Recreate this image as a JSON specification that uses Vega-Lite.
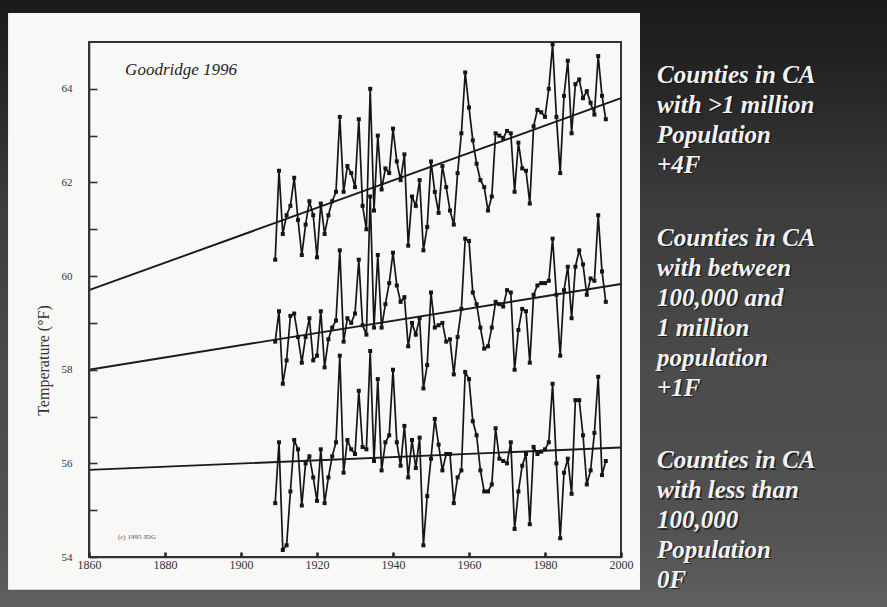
{
  "$schema": "https://vega.github.io/schema/vega-lite/v6.json",
  "width": 532,
  "height": 515,
  "autosize": "none",
  "padding": {"left": 89, "top": 42, "right": 266, "bottom": 50},
  "background": "#1c1c1c",
  "config": {"view": {"stroke": null}},
  "datasets": {
    "slide": [
      {"part": "backdrop", "year": 1830, "year2": 2090, "temp": 52.6, "temp2": 66.2},
      {"part": "panel", "year": 1838.7, "year2": 2005.0, "temp": 53.3, "temp2": 65.62}
    ],
    "frame": [{"year": 1860, "year2": 2000, "temp": 54, "temp2": 65}],
    "series": [
      {"year": 1909, "large": 60.35, "medium": 58.6, "small": 55.15},
      {"year": 1910, "large": 62.25, "medium": 59.25, "small": 56.45},
      {"year": 1911, "large": 60.9, "medium": 57.7, "small": 54.15},
      {"year": 1912, "large": 61.3, "medium": 58.2, "small": 54.25},
      {"year": 1913, "large": 61.5, "medium": 59.15, "small": 55.4},
      {"year": 1914, "large": 62.1, "medium": 59.2, "small": 56.5},
      {"year": 1915, "large": 61.2, "medium": 58.7, "small": 56.3},
      {"year": 1916, "large": 60.45, "medium": 58.15, "small": 55.1},
      {"year": 1917, "large": 61.1, "medium": 58.7, "small": 56.0},
      {"year": 1918, "large": 61.6, "medium": 59.1, "small": 56.15},
      {"year": 1919, "large": 61.3, "medium": 58.2, "small": 55.7},
      {"year": 1920, "large": 60.4, "medium": 58.3, "small": 55.2},
      {"year": 1921, "large": 61.55, "medium": 59.25, "small": 56.3},
      {"year": 1922, "large": 60.9, "medium": 58.05, "small": 55.15},
      {"year": 1923, "large": 61.3, "medium": 58.65, "small": 55.7},
      {"year": 1924, "large": 61.6, "medium": 58.9, "small": 56.15},
      {"year": 1925, "large": 61.8, "medium": 59.05, "small": 56.45},
      {"year": 1926, "large": 63.4, "medium": 60.55, "small": 58.3},
      {"year": 1927, "large": 61.8, "medium": 58.6, "small": 55.8},
      {"year": 1928, "large": 62.35, "medium": 59.1, "small": 56.5},
      {"year": 1929, "large": 62.2, "medium": 59.0, "small": 56.3},
      {"year": 1930, "large": 61.9, "medium": 59.2, "small": 56.2},
      {"year": 1931, "large": 63.35, "medium": 60.35, "small": 57.55},
      {"year": 1932, "large": 61.5, "medium": 58.95, "small": 56.35},
      {"year": 1933, "large": 61.0, "medium": 58.75, "small": 56.3},
      {"year": 1934, "large": 64.0, "medium": 61.7, "small": 58.4},
      {"year": 1935, "large": 61.4, "medium": 58.9, "small": 56.05},
      {"year": 1936, "large": 63.0, "medium": 60.45, "small": 57.8},
      {"year": 1937, "large": 61.85, "medium": 58.9, "small": 55.85},
      {"year": 1938, "large": 62.3, "medium": 59.4, "small": 56.45},
      {"year": 1939, "large": 62.2, "medium": 59.85, "small": 56.6},
      {"year": 1940, "large": 63.15, "medium": 60.5, "small": 58.0},
      {"year": 1941, "large": 62.45, "medium": 59.8, "small": 56.45},
      {"year": 1942, "large": 62.05, "medium": 59.45, "small": 55.95},
      {"year": 1943, "large": 62.6, "medium": 59.55, "small": 56.8},
      {"year": 1944, "large": 60.65, "medium": 58.5, "small": 55.7},
      {"year": 1945, "large": 61.7, "medium": 59.0, "small": 56.5},
      {"year": 1946, "large": 61.5, "medium": 58.75, "small": 55.9},
      {"year": 1947, "large": 62.05, "medium": 59.1, "small": 56.55},
      {"year": 1948, "large": 60.55, "medium": 57.6, "small": 54.25},
      {"year": 1949, "large": 61.05, "medium": 58.1, "small": 55.3},
      {"year": 1950, "large": 62.45, "medium": 59.65, "small": 56.1},
      {"year": 1951, "large": 61.8, "medium": 58.9, "small": 56.95},
      {"year": 1952, "large": 61.35, "medium": 58.95, "small": 56.4},
      {"year": 1953, "large": 62.35, "medium": 59.0, "small": 55.85},
      {"year": 1954, "large": 61.9, "medium": 58.6, "small": 56.2},
      {"year": 1955, "large": 61.4, "medium": 58.65, "small": 56.2},
      {"year": 1956, "large": 61.1, "medium": 57.9, "small": 55.15},
      {"year": 1957, "large": 62.2, "medium": 58.7, "small": 55.7},
      {"year": 1958, "large": 63.05, "medium": 59.3, "small": 55.85},
      {"year": 1959, "large": 64.35, "medium": 60.8, "small": 57.95},
      {"year": 1960, "large": 63.6, "medium": 60.75, "small": 57.8},
      {"year": 1961, "large": 62.9, "medium": 59.65, "small": 56.9},
      {"year": 1962, "large": 62.4, "medium": 59.4, "small": 56.6},
      {"year": 1963, "large": 62.05, "medium": 58.9, "small": 55.85},
      {"year": 1964, "large": 61.9, "medium": 58.45, "small": 55.4},
      {"year": 1965, "large": 61.4, "medium": 58.5, "small": 55.4},
      {"year": 1966, "large": 61.7, "medium": 58.9, "small": 55.55},
      {"year": 1967, "large": 63.05, "medium": 59.45, "small": 56.75},
      {"year": 1968, "large": 63.0, "medium": 59.4, "small": 56.1},
      {"year": 1969, "large": 62.95, "medium": 59.35, "small": 56.05},
      {"year": 1970, "large": 63.1, "medium": 59.7, "small": 56.0},
      {"year": 1971, "large": 63.05, "medium": 59.65, "small": 56.45},
      {"year": 1972, "large": 61.8, "medium": 58.0, "small": 54.6},
      {"year": 1973, "large": 62.85, "medium": 58.85, "small": 55.4},
      {"year": 1974, "large": 62.3, "medium": 59.3, "small": 55.95},
      {"year": 1975, "large": 62.25, "medium": 59.25, "small": 56.2},
      {"year": 1976, "large": 61.55, "medium": 58.15, "small": 54.7},
      {"year": 1977, "large": 63.2, "medium": 59.6, "small": 56.35},
      {"year": 1978, "large": 63.55, "medium": 59.8, "small": 56.2},
      {"year": 1979, "large": 63.5, "medium": 59.85, "small": 56.25},
      {"year": 1980, "large": 63.4, "medium": 59.85, "small": 56.3},
      {"year": 1981, "large": 64.0, "medium": 59.9, "small": 56.45},
      {"year": 1982, "large": 64.95, "medium": 60.8, "small": 57.7},
      {"year": 1983, "large": 63.4, "medium": 59.6, "small": 56.0},
      {"year": 1984, "large": 62.2, "medium": 58.3, "small": 54.4},
      {"year": 1985, "large": 63.85, "medium": 59.7, "small": 55.8},
      {"year": 1986, "large": 64.6, "medium": 60.2, "small": 56.1},
      {"year": 1987, "large": 63.05, "medium": 59.1, "small": 55.35},
      {"year": 1988, "large": 64.1, "medium": 60.2, "small": 57.35},
      {"year": 1989, "large": 64.2, "medium": 60.55, "small": 57.35},
      {"year": 1990, "large": 63.8, "medium": 60.25, "small": 56.6},
      {"year": 1991, "large": 63.95, "medium": 59.6, "small": 55.55},
      {"year": 1992, "large": 63.7, "medium": 59.95, "small": 55.85},
      {"year": 1993, "large": 63.45, "medium": 59.9, "small": 56.65},
      {"year": 1994, "large": 64.7, "medium": 61.3, "small": 57.85},
      {"year": 1995, "large": 63.85, "medium": 60.1, "small": 55.75},
      {"year": 1996, "large": 63.35, "medium": 59.45, "small": 56.05}
    ],
    "trends": [
      {"group": "large", "year": 1860, "temp": 59.7},
      {"group": "large", "year": 2000, "temp": 63.8},
      {"group": "medium", "year": 1860, "temp": 58.0},
      {"group": "medium", "year": 2000, "temp": 59.83},
      {"group": "small", "year": 1860, "temp": 55.86},
      {"group": "small", "year": 2000, "temp": 56.34}
    ],
    "credits": [
      {"label": "Goodridge 1996", "year": 1869.5, "temp": 64.4, "kind": "title"},
      {"label": "(c) 1995 JDG", "year": 1867.6, "temp": 54.43, "kind": "small"}
    ],
    "notes": [
      {"label": "Counties in CA", "year": 2009.5, "temp": 64.3},
      {"label": "with >1 million", "year": 2009.5, "temp": 63.66},
      {"label": "Population", "year": 2009.5, "temp": 63.02},
      {"label": "+4F", "year": 2009.5, "temp": 62.38},
      {"label": "Counties in CA", "year": 2009.5, "temp": 60.82},
      {"label": "with between", "year": 2009.5, "temp": 60.18},
      {"label": "100,000 and", "year": 2009.5, "temp": 59.54},
      {"label": "1 million", "year": 2009.5, "temp": 58.9},
      {"label": "population", "year": 2009.5, "temp": 58.26},
      {"label": "+1F", "year": 2009.5, "temp": 57.62},
      {"label": "Counties in CA", "year": 2009.5, "temp": 56.07},
      {"label": "with less than", "year": 2009.5, "temp": 55.43},
      {"label": "100,000", "year": 2009.5, "temp": 54.79},
      {"label": "Population", "year": 2009.5, "temp": 54.15},
      {"label": "0F", "year": 2009.5, "temp": 53.51}
    ]
  },
  "layer": [
    {
      "data": {"name": "slide"},
      "transform": [{"filter": "datum.part === 'backdrop'"}],
      "mark": {
        "type": "rect",
        "color": {
          "gradient": "linear",
          "x1": 0, "y1": 0, "x2": 0, "y2": 1,
          "stops": [
            {"offset": 0, "color": "#1a1a1a"},
            {"offset": 0.1, "color": "#202020"},
            {"offset": 0.35, "color": "#3c3c3c"},
            {"offset": 0.6, "color": "#4b4b4b"},
            {"offset": 0.85, "color": "#525252"},
            {"offset": 1, "color": "#626262"}
          ]
        }
      },
      "encoding": {
        "x": {
          "field": "year", "type": "quantitative",
          "scale": {"domain": [1860, 2000], "nice": false, "zero": false},
          "axis": {
            "values": [1860, 1880, 1900, 1920, 1940, 1960, 1980, 2000],
            "format": "d",
            "title": null,
            "grid": false,
            "zindex": 1,
            "domainColor": "#333",
            "domainWidth": 1.6,
            "tickColor": "#222",
            "tickSize": -5,
            "tickWidth": 2.5,
            "labelPadding": 7,
            "labelFlush": false,
            "labelOverlap": false,
            "labelFont": "Liberation Serif",
            "labelFontSize": 12,
            "labelColor": "#333"
          }
        },
        "x2": {"field": "year2"},
        "y": {
          "field": "temp", "type": "quantitative",
          "scale": {"domain": [54, 65], "nice": false, "zero": false},
          "axis": {
            "values": [54, 55, 56, 57, 58, 59, 60, 61, 62, 63, 64],
            "format": "d",
            "labelExpr": "datum.value % 2 === 0 ? datum.label : ''",
            "title": "Temperature (°F)",
            "titleFont": "Liberation Serif",
            "titleFontSize": 16,
            "titleFontWeight": "normal",
            "titleColor": "#333",
            "titleX": -46,
            "titleY": 318,
            "titleBaseline": "middle",
            "grid": false,
            "zindex": 1,
            "domainColor": "#333",
            "domainWidth": 1.6,
            "tickColor": "#333",
            "tickSize": -8,
            "tickWidth": 1.6,
            "labelPadding": 25,
            "labelOverlap": false,
            "labelFont": "Liberation Serif",
            "labelFontSize": 11,
            "labelColor": "#333"
          }
        },
        "y2": {"field": "temp2"}
      }
    },
    {
      "data": {"name": "slide"},
      "transform": [{"filter": "datum.part === 'panel'"}],
      "mark": {"type": "rect", "color": "#f8f8f7"},
      "encoding": {
        "x": {"field": "year", "type": "quantitative"},
        "x2": {"field": "year2"},
        "y": {"field": "temp", "type": "quantitative"},
        "y2": {"field": "temp2"}
      }
    },
    {
      "data": {"name": "frame"},
      "mark": {"type": "rect", "fillOpacity": 0, "stroke": "#333", "strokeWidth": 2},
      "encoding": {
        "x": {"field": "year", "type": "quantitative"},
        "x2": {"field": "year2"},
        "y": {"field": "temp", "type": "quantitative"},
        "y2": {"field": "temp2"}
      }
    },
    {
      "data": {"name": "trends"},
      "mark": {"type": "line", "color": "#1a1a1a", "strokeWidth": 1.9},
      "encoding": {
        "x": {"field": "year", "type": "quantitative"},
        "y": {"field": "temp", "type": "quantitative"},
        "detail": {"field": "group"}
      }
    },
    {
      "data": {"name": "series"},
      "transform": [{"fold": ["large", "medium", "small"], "as": ["group", "temp"]}],
      "mark": {
        "type": "line",
        "color": "#151515",
        "strokeWidth": 1.7,
        "point": {"filled": true, "size": 16, "shape": "square", "color": "#151515"}
      },
      "encoding": {
        "x": {"field": "year", "type": "quantitative"},
        "y": {"field": "temp", "type": "quantitative"},
        "detail": {"field": "group"}
      }
    },
    {
      "data": {"name": "credits"},
      "transform": [{"filter": "datum.kind === 'title'"}],
      "mark": {"type": "text", "align": "left", "baseline": "middle", "font": "Liberation Serif", "fontStyle": "italic", "fontSize": 17, "color": "#1e1e1e"},
      "encoding": {
        "x": {"field": "year", "type": "quantitative"},
        "y": {"field": "temp", "type": "quantitative"},
        "text": {"field": "label"}
      }
    },
    {
      "data": {"name": "credits"},
      "transform": [{"filter": "datum.kind === 'small'"}],
      "mark": {"type": "text", "align": "left", "baseline": "middle", "font": "Liberation Serif", "fontSize": 7, "color": "#555"},
      "encoding": {
        "x": {"field": "year", "type": "quantitative"},
        "y": {"field": "temp", "type": "quantitative"},
        "text": {"field": "label"}
      }
    },
    {
      "data": {"name": "notes"},
      "mark": {"type": "text", "align": "left", "baseline": "middle", "font": "Liberation Serif", "fontStyle": "italic", "fontWeight": "bold", "fontSize": 25, "color": "#111", "opacity": 0.7, "dx": 1.5, "dy": 1.5},
      "encoding": {
        "x": {"field": "year", "type": "quantitative"},
        "y": {"field": "temp", "type": "quantitative"},
        "text": {"field": "label"}
      }
    },
    {
      "data": {"name": "notes"},
      "mark": {"type": "text", "align": "left", "baseline": "middle", "font": "Liberation Serif", "fontStyle": "italic", "fontWeight": "bold", "fontSize": 25, "color": "#f2f2f2"},
      "encoding": {
        "x": {"field": "year", "type": "quantitative"},
        "y": {"field": "temp", "type": "quantitative"},
        "text": {"field": "label"}
      }
    }
  ]
}
